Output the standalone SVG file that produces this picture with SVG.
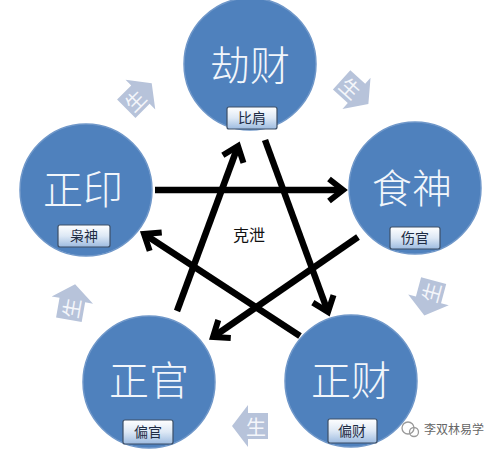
<svg xmlns="http://www.w3.org/2000/svg" width="500" height="452" viewBox="0 0 500 452">
<defs>
<style>
.node circle{fill:#4f81bd;stroke:#6f97c9;stroke-width:1.5}
.main{font-family:"Noto Sans CJK SC","Noto Sans CJK JP",sans-serif;font-size:40px;fill:#f2f6fb;text-anchor:middle;font-weight:300}
.tag rect{fill:url(#tagGrad);stroke:#3d4f66;stroke-width:1.2}
.tag text{font-family:"Noto Sans CJK SC",sans-serif;font-size:14px;fill:#1e2c44;text-anchor:middle}
.sheng use{fill:#b7c3da}
.sheng text{font-family:"Noto Sans CJK SC",sans-serif;font-size:20px;fill:#f4f6fa;text-anchor:middle;dominant-baseline:central}
.edge{stroke:#000;stroke-width:6.5;fill:none;marker-end:url(#head)}
</style>
<linearGradient id="tagGrad" x1="0" y1="0" x2="0" y2="1">
<stop offset="0" stop-color="#ffffff"/>
<stop offset="0.5" stop-color="#dde8f5"/>
<stop offset="1" stop-color="#9dbbe0"/>
</linearGradient>
<marker id="head" markerUnits="userSpaceOnUse" viewBox="-22 -16 28 32" markerWidth="28" markerHeight="32" refX="0" refY="0" orient="auto">
<path d="M -14 -11 L 0 0 L -14 11" fill="none" stroke="#000" stroke-width="6"/>
</marker>
<path id="shengShape" fill="#b7c3da" d="M -18 -13 L 2 -13 L 2 -21 L 18 0 L 2 21 L 2 13 L -18 13 Z"/>
</defs>
<rect width="500" height="452" fill="#ffffff"/>

<g id="sheng-arrows">
<g class="sheng" transform="translate(139 96) rotate(-45)"><use href="#shengShape"/><text x="-6" y="0">生</text></g>
<g class="sheng" transform="translate(355 92) rotate(42)"><use href="#shengShape"/><text x="-6" y="0">生</text></g>
<g class="sheng" transform="translate(429 298) rotate(105)"><use href="#shengShape"/><text x="-6" y="0" transform="rotate(180 -6 0)">生</text></g>
<g class="sheng" transform="translate(250 426) rotate(180)"><use href="#shengShape"/><text x="-6" y="0" transform="rotate(180 -6 0)">生</text></g>
<g class="sheng" transform="translate(72 302) rotate(-80)"><use href="#shengShape"/><text x="-6" y="0">生</text></g>
</g>

<g id="connectors">
<line class="edge" x1="155" y1="190" x2="343" y2="190"/>
<line class="edge" x1="177" y1="311" x2="238" y2="146"/>
<line class="edge" x1="265" y1="140" x2="328" y2="312"/>
<line class="edge" x1="358" y1="237" x2="213" y2="337"/>
<line class="edge" x1="300" y1="336" x2="144" y2="234"/>
</g>

<g id="node-jiecai" class="node">
<circle cx="250" cy="64" r="66"/>
<text class="main" x="250" y="80">劫财</text>
<g class="tag"><rect x="227" y="107" width="50" height="22" rx="2"/><text x="252" y="123">比肩</text></g>
</g>
<g id="node-shishen" class="node">
<circle cx="415" cy="188" r="66"/>
<text class="main" x="412" y="203">食神</text>
<g class="tag"><rect x="390" y="227" width="50" height="22" rx="2"/><text x="415" y="243">伤官</text></g>
</g>
<g id="node-zhengyin" class="node">
<circle cx="86" cy="190" r="66"/>
<text class="main" x="83" y="204">正印</text>
<g class="tag"><rect x="58" y="225" width="52" height="22" rx="2"/><text x="84" y="241">枭神</text></g>
</g>
<g id="node-zhengguan" class="node">
<circle cx="149" cy="382" r="66"/>
<text class="main" x="149" y="395">正官</text>
<g class="tag"><rect x="123" y="420" width="50" height="24" rx="2"/><text x="148" y="437">偏官</text></g>
</g>
<g id="node-zhengcai" class="node">
<circle cx="351" cy="381" r="66"/>
<text class="main" x="351" y="395">正财</text>
<g class="tag"><rect x="328" y="419" width="49" height="24" rx="2"/><text x="352" y="436">偏财</text></g>
</g>

<text x="249" y="241" font-family="Noto Sans CJK SC, sans-serif" font-size="16" fill="#111" text-anchor="middle">克泄</text>

<g id="watermark">
<circle cx="408" cy="428" r="6" fill="none" stroke="#9a9a9a" stroke-width="1.3"/>
<circle cx="414" cy="432" r="4.5" fill="none" stroke="#9a9a9a" stroke-width="1.3"/>
<text x="424" y="434" font-family="Noto Sans CJK SC, sans-serif" font-size="12" fill="#666">李双林易学</text>
</g>
</svg>
